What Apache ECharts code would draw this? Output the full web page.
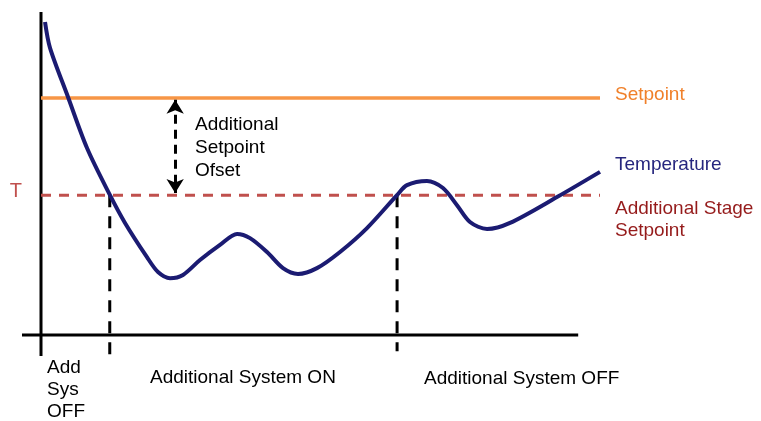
<!DOCTYPE html>
<html>
<head>
<meta charset="utf-8">
<script src="https://cdn.jsdelivr.net/npm/echarts@6/dist/echarts.min.js"></script>
<style>
html,body{margin:0;padding:0;background:#fff;}
#chart{width:761px;height:421px;}
</style>
</head>
<body>
<div id="chart"></div>
<script>
// Time (arbitrary units) and temperature (arbitrary units)
const timeValues = [0.72, 1.61, 4.83, 8.23, 12.34, 15.03, 18.96, 20.93, 23.08, 25.40, 28.44, 32.02, 35.07, 37.39, 40.43, 43.29, 45.97, 49.37, 53.49, 58.32, 63.69, 65.47, 69.05, 71.91, 74.42, 76.74, 79.79, 83.90, 92.31, 100];
const temperatureValues = [96.9, 88.9, 73.7, 57.9, 43.3, 34.7, 24.1, 19.5, 17.6, 18.6, 23.2, 27.9, 31.3, 30.0, 25.7, 20.7, 18.9, 20.7, 25.7, 33.1, 43.3, 46.4, 47.7, 45.5, 40.2, 35.0, 32.8, 34.7, 42.7, 50.5];
const setpointValue = 73.4;
const stageSetpointValue = 43.3;
const switchTimes = [12.3, 63.7];
const switchBottoms = [-6.2, -5];
const lineRange = [0, 100];
const axisXRange = [-3.4, 96.1];
const axisYRange = [-6.5, 100];
const offsetArrowTime = 24;
const offsetArrowEnds = [72.8, 44.0];

const seriesNames = ['Setpoint', 'Temperature', 'Additional Stage\nSetpoint'];
const offsetText = 'Additional\nSetpoint\nOfset';
const tLabel = 'T';
const periodLabels = ['Add\nSys\nOFF', 'Additional System ON', 'Additional System OFF'];

const FONT = 'Liberation Sans, Arial, sans-serif';
const chart = echarts.init(document.getElementById('chart'), null, {renderer: 'canvas'});

const tempData = timeValues.map((t, i) => [t, temperatureValues[i]]);

const option = {
  animation: false,
  backgroundColor: '#ffffff',
  grid: {left: 13.05, right: 161, top: 12, bottom: 53.7},
  xAxis: {type: 'value', min: -5, max: 100, show: false},
  yAxis: {type: 'value', min: -10, max: 100, show: false},
  series: [
    {
      name: 'yAxisLine', type: 'line', clip: false, symbol: 'none', silent: true,
      data: [[0, axisYRange[1]], [0, axisYRange[0]]],
      lineStyle: {color: '#000', width: 3}, z: 2
    },
    {
      name: 'xAxisLine', type: 'line', clip: false, symbol: 'none', silent: true,
      data: [[axisXRange[0], 0], [axisXRange[1], 0]],
      lineStyle: {color: '#000', width: 3}, z: 2
    },
    {
      name: 'stage', type: 'line', clip: false, symbol: 'none', silent: true,
      data: [[lineRange[0], stageSetpointValue], [lineRange[1], stageSetpointValue]],
      lineStyle: {color: '#c0504d', width: 3, type: [10, 8]}, z: 3,
      endLabel: {
        show: true, formatter: seriesNames[2], color: '#951b1b',
        fontFamily: FONT, fontSize: 19, lineHeight: 22, align: 'left',
        verticalAlign: 'middle', distance: 15, offset: [0, 25]
      },
      markPoint: {
        symbol: 'circle', symbolSize: 0, silent: true,
        data: [{coord: [0, stageSetpointValue]}],
        label: {
          show: true, formatter: tLabel, color: '#c0504d', fontFamily: FONT,
          fontSize: 20, position: 'left', distance: 19, offset: [0, -4]
        }
      }
    },
    {
      name: 'setpoint', type: 'line', clip: false, symbol: 'none', silent: true,
      data: [[lineRange[0], setpointValue], [lineRange[1], setpointValue]],
      lineStyle: {color: '#f79646', width: 3.5}, z: 3,
      endLabel: {
        show: true, formatter: seriesNames[0], color: '#f0802a',
        fontFamily: FONT, fontSize: 19, align: 'left',
        verticalAlign: 'middle', distance: 15, offset: [0, -3]
      },
      markLine: {
        silent: true, symbol: ['arrow', 'arrow'], symbolSize: [13, 14],
        label: {show: false},
        lineStyle: {color: '#000', width: 3, type: [9, 6]},
        data: [[{coord: [offsetArrowTime, offsetArrowEnds[0]]}, {coord: [offsetArrowTime, offsetArrowEnds[1]]}]]
      }
    },
    {
      name: 'switch1', type: 'line', clip: false, symbol: 'none', silent: true,
      data: [[switchTimes[0], stageSetpointValue], [switchTimes[0], switchBottoms[0]]],
      lineStyle: {color: '#000', width: 3, type: [12, 9]}, z: 4
    },
    {
      name: 'switch2', type: 'line', clip: false, symbol: 'none', silent: true,
      data: [[switchTimes[1], stageSetpointValue], [switchTimes[1], switchBottoms[1]]],
      lineStyle: {color: '#000', width: 3, type: [12, 9]}, z: 4
    },
    {
      name: 'temperature', type: 'line', clip: false, symbol: 'none', silent: true,
      smooth: 0.3,
      data: tempData,
      lineStyle: {color: '#1b1b72', width: 4}, z: 5,
      endLabel: {
        show: true, formatter: seriesNames[1], color: '#26267e',
        fontFamily: FONT, fontSize: 19, align: 'left',
        verticalAlign: 'middle', distance: 15, offset: [0, -7]
      }
    }
  ],
  graphic: [
    {type: 'text', left: 195, top: 113, silent: true,
     style: {text: offsetText, font: '19px ' + FONT, fill: '#000', lineHeight: 23}},
    {type: 'text', left: 47, top: 357, silent: true,
     style: {text: periodLabels[0], font: '19px ' + FONT, fill: '#000', lineHeight: 22}},
    {type: 'text', left: 150, top: 368, silent: true,
     style: {text: periodLabels[1], font: '19px ' + FONT, fill: '#000'}},
    {type: 'text', left: 424, top: 369, silent: true,
     style: {text: periodLabels[2], font: '19px ' + FONT, fill: '#000'}}
  ]
};
chart.setOption(option);
</script>
</body>
</html>
